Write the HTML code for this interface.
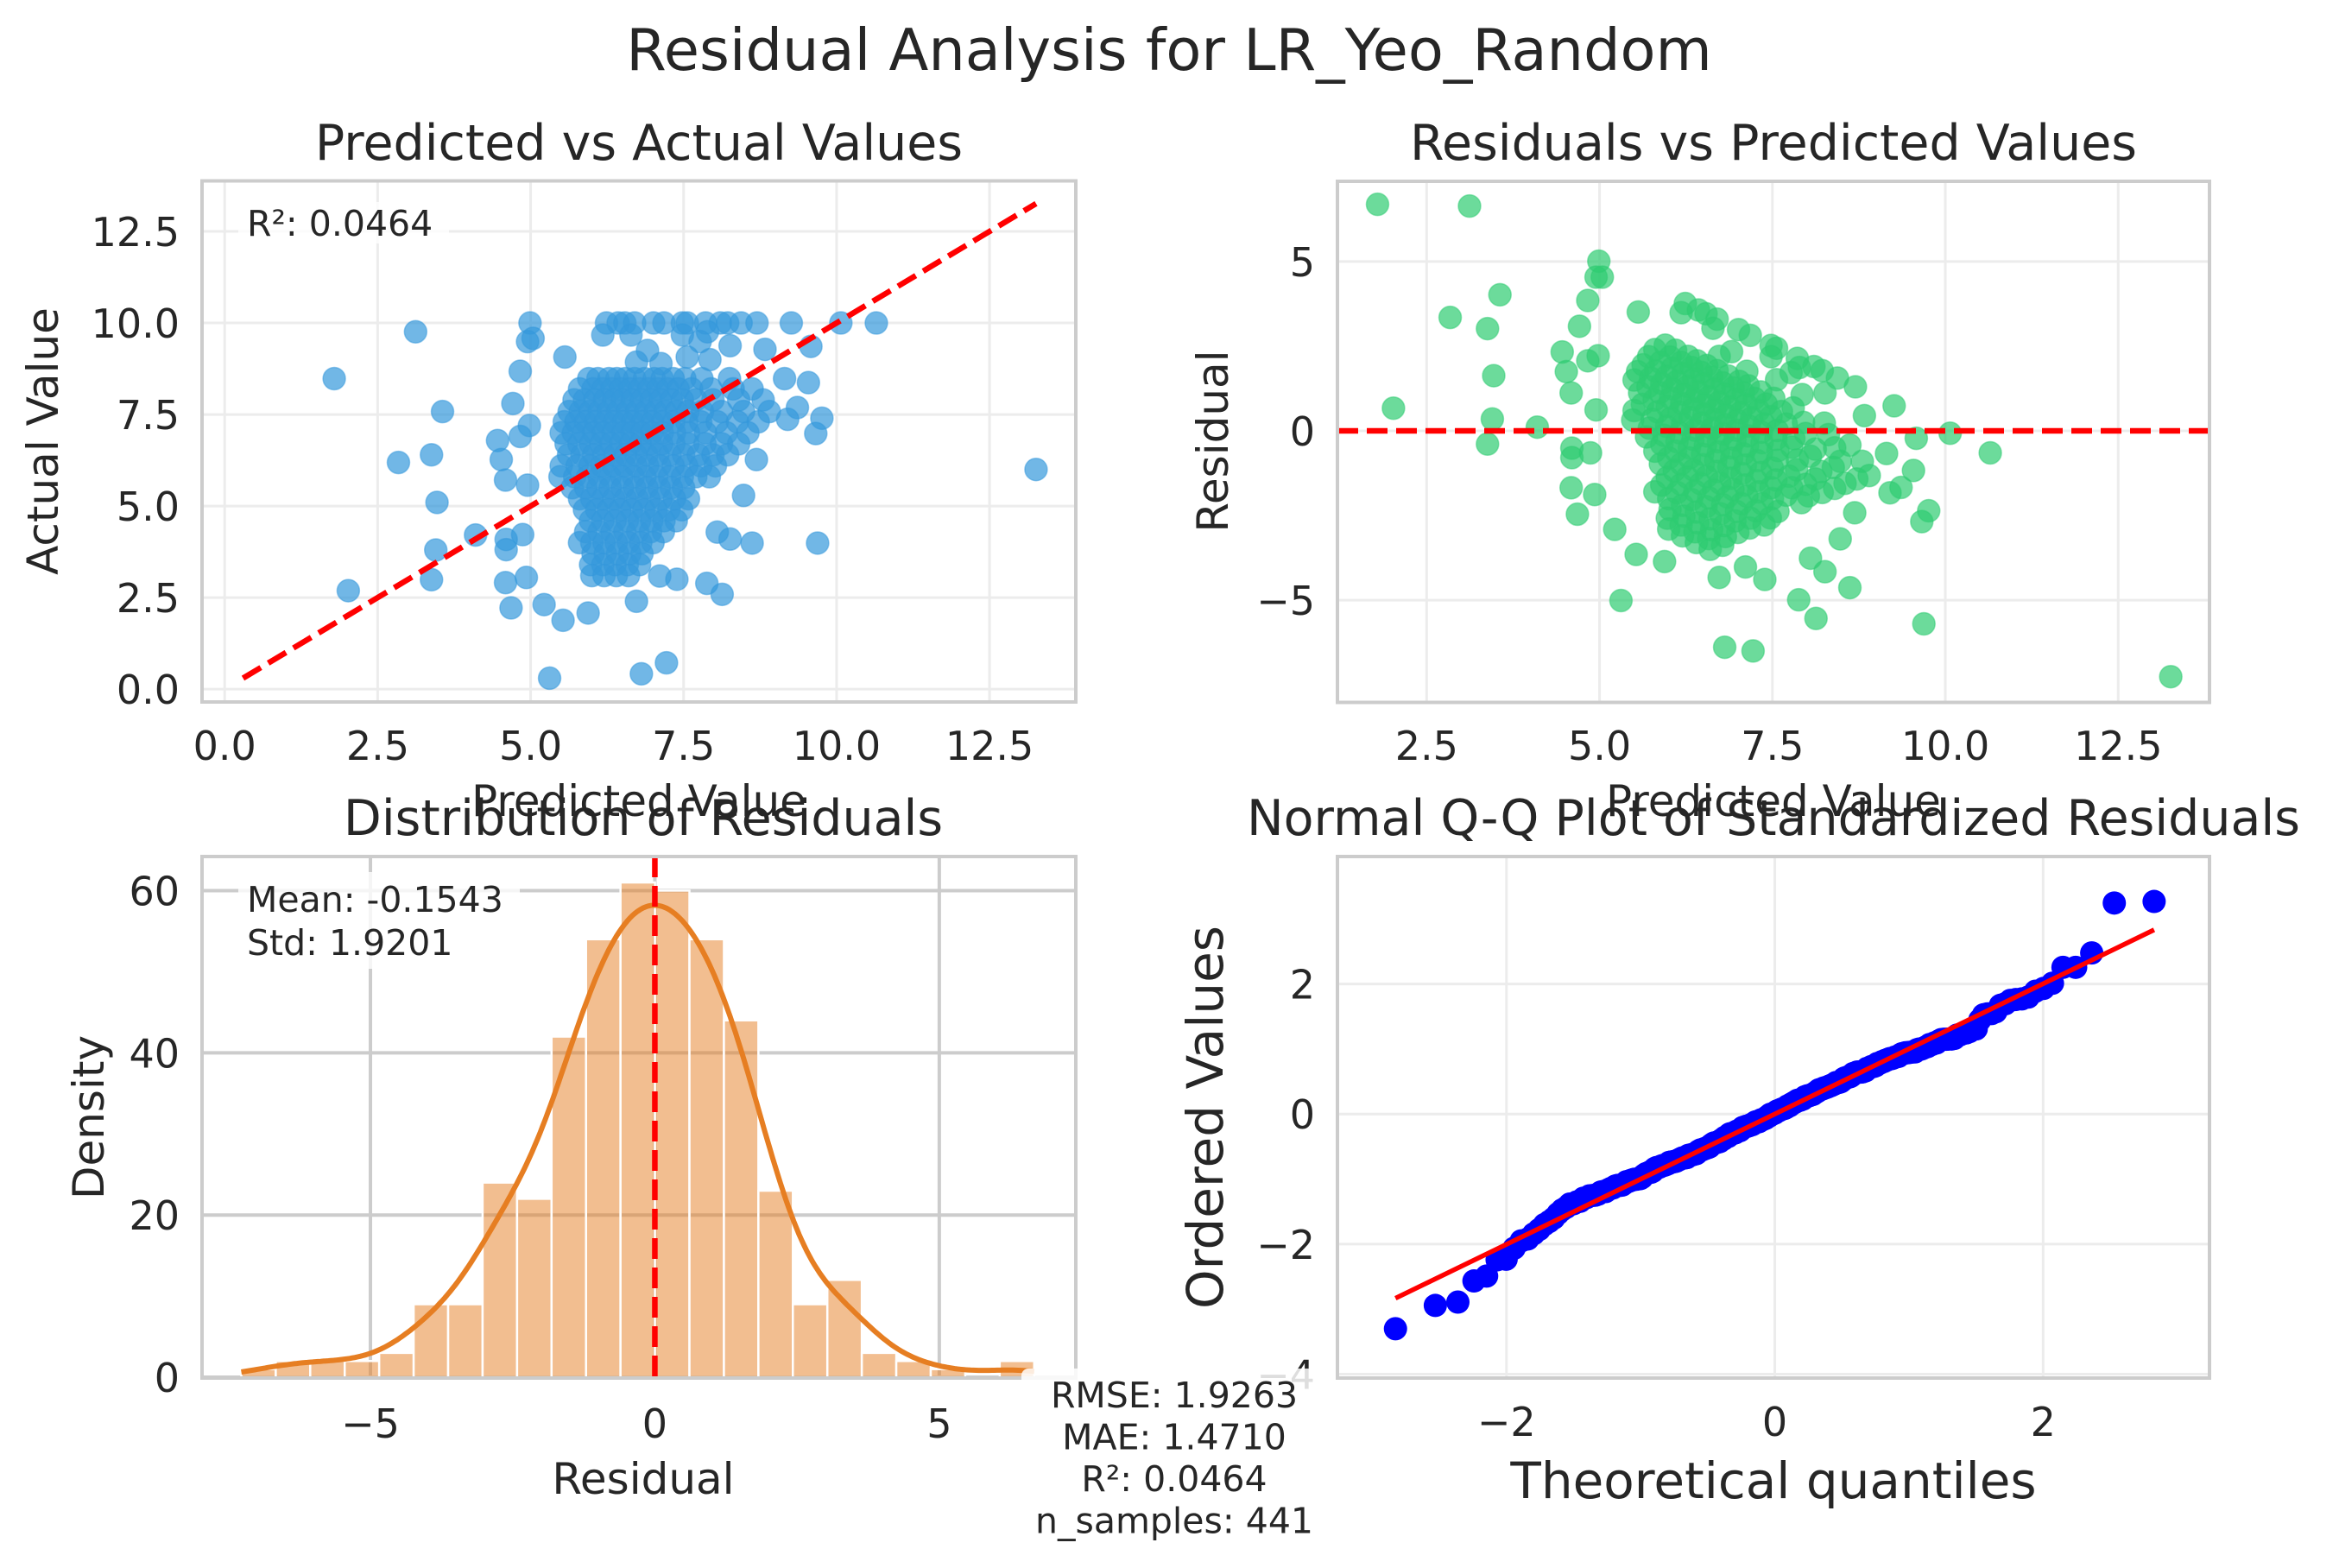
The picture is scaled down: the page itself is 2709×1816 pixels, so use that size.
<!DOCTYPE html>
<html><head><meta charset="utf-8"><title>Residual Analysis for LR_Yeo_Random</title>
<style>
html,body{margin:0;padding:0;background:#fff;}
svg{display:block;font-family:"DejaVu Sans","Liberation Sans",sans-serif;}
</style></head>
<body>
<svg id="fig" width="2709" height="1816" viewBox="0 0 2709 1816" xmlns="http://www.w3.org/2000/svg">
<rect x="0" y="0" width="2709" height="1816" fill="#ffffff"/>
<text x="1354" y="81" font-size="67" text-anchor="middle" fill="#262626">Residual Analysis for LR_Yeo_Random</text>
</svg>
<script>
// ---- data ----
const outlierPred = [1.79,3.12,2.02,2.84,3.38,3.47,3.56,3.45,3.38,4.10,13.26,9.69,10.65,10.07,9.26,9.58,9.76,9.66,9.54,9.15,9.36,9.20,8.69,8.48,8.62,8.26,8.05,8.13,7.88,7.39,7.11,7.22,6.81,5.31,5.53,5.94,6.73,4.68,5.22,4.59,4.93,4.99,5.04,4.95,5.56,4.83,4.71,4.98,4.83,4.46,4.52,4.59,4.95,4.60,4.87,4.60,
  6.24,6.43,6.54,6.70,7.01,7.18,7.48,7.56,7.86,8.10,8.22,8.44,8.70,
  6.18,6.64,7.48,6.91,7.56,7.93,8.26,6.73,7.13,8.83,7.89,7.77];
const outlierActual = [8.48,9.76,2.69,6.19,6.40,5.10,7.58,3.80,2.99,4.21,6.00,3.99,10.0,10.0,10.0,9.36,7.40,6.98,8.37,8.48,7.69,7.37,6.27,5.29,3.99,4.10,4.29,2.59,2.89,3.00,3.09,0.72,0.42,0.30,1.88,2.08,2.40,2.22,2.31,2.91,3.05,10.0,9.58,9.49,9.07,8.68,7.80,7.20,6.90,6.79,6.27,5.71,5.57,4.09,4.22,3.81,
  10.0,10.0,10.0,10.0,10.0,10.0,10.0,10.0,10.0,10.0,10.0,10.0,10.0,
  9.67,9.67,9.67,9.25,9.07,9.00,9.38,8.93,8.89,9.28,9.76,9.49];
const clusterLevels = [8.48,8.20,7.90,7.58,7.30,7.00,6.70,6.40,6.10,5.80,5.50,5.20,4.90,4.60,4.30,4.00,3.70,3.40,3.10];
const clusterPreds = [
  [5.95,6.10,6.28,6.41,6.55,6.70,6.86,7.02,7.15,7.33,7.52,7.80,8.25],
  [5.80,6.02,6.18,6.33,6.47,6.62,6.78,6.93,7.08,7.24,7.41,7.63,7.95,8.31,8.62],
  [5.71,5.88,6.05,6.21,6.36,6.50,6.66,6.81,6.97,7.12,7.30,7.48,7.70,7.98,8.40,8.80],
  [5.63,5.81,5.97,6.12,6.27,6.42,6.58,6.73,6.88,7.04,7.20,7.38,7.57,7.81,8.12,8.48,8.90],
  [5.55,5.74,5.90,6.06,6.22,6.37,6.52,6.67,6.83,6.99,7.16,7.34,7.55,7.78,8.05,8.38,8.72],
  [5.50,5.70,5.87,6.03,6.19,6.35,6.51,6.66,6.82,6.98,7.15,7.35,7.58,7.86,8.20,8.55],
  [5.58,5.79,5.98,6.15,6.31,6.47,6.63,6.79,6.96,7.14,7.34,7.57,7.85,8.12,8.40],
  [5.62,5.84,6.03,6.20,6.38,6.55,6.72,6.90,7.08,7.28,7.50,7.74,7.98,8.22],
  [5.50,5.76,5.97,6.16,6.35,6.53,6.72,6.91,7.11,7.33,7.55,7.78,8.02],
  [5.48,5.72,5.93,6.12,6.30,6.49,6.68,6.87,7.06,7.27,7.48,7.70,7.92],
  [5.68,5.90,6.10,6.30,6.50,6.70,6.90,7.10,7.30,7.50],
  [5.80,6.00,6.18,6.36,6.55,6.74,6.93,7.13,7.35,7.58],
  [5.88,6.08,6.27,6.46,6.65,6.85,7.05,7.26,7.47],
  [5.98,6.18,6.38,6.58,6.78,6.98,7.18,7.38],
  [5.90,6.12,6.33,6.54,6.75,6.96,7.17],
  [5.80,6.00,6.20,6.40,6.60,6.80,7.00],
  [6.02,6.22,6.42,6.62,6.82],
  [5.98,6.18,6.38,6.58,6.78],
  [6.00,6.20,6.40,6.60]
];
const histStart = -7.27;
const histBinWidth = 0.606;
const histCounts = [1,2,2,2,3,9,9,24,22,42,54,61,60,54,44,23,9,12,3,2,1,0,2];
const p1XTicks = [0,2.5,5,7.5,10,12.5];
const p1XTickLabels = ["0.0","2.5","5.0","7.5","10.0","12.5"];
const p1YTicks = [0,2.5,5,7.5,10,12.5];
const p1YTickLabels = ["0.0","2.5","5.0","7.5","10.0","12.5"];
const p2XTicks = [2.5,5,7.5,10,12.5];
const p2XTickLabels = ["2.5","5.0","7.5","10.0","12.5"];
const p2YTicks = [-5,0,5];
const p2YTickLabels = ["\u22125","0","5"];
const p3XTicks = [-5,0,5];
const p3XTickLabels = ["\u22125","0","5"];
const p3YTicks = [0,20,40,60];
const p3YTickLabels = ["0","20","40","60"];
const p4XTicks = [-2,0,2];
const p4XTickLabels = ["\u22122","0","2"];
const p4YTicks = [-4,-2,0,2];
const p4YTickLabels = ["\u22124","\u22122","0","2"];

// ---- build ----
const NS = "http://www.w3.org/2000/svg";
const svg = document.getElementById("fig");
function mk(tag, attrs, parent){
  const e = document.createElementNS(NS, tag);
  for (const k in attrs) e.setAttribute(k, attrs[k]);
  (parent||svg).appendChild(e);
  return e;
}
const predicted = [], actual = [];
outlierPred.forEach((p,i)=>{ predicted.push(p); actual.push(outlierActual[i]); });
clusterPreds.forEach((row,j)=>row.forEach(p=>{ predicted.push(p); actual.push(clusterLevels[j]); }));
const residuals = predicted.map((p,i)=>actual[i]-p);

function makeAxes(name, px0, px1, py0, py1, xmin, xmax, ymin, ymax){
  const g = mk("g", {});
  
  
  const sx = v => px0 + (v - xmin) / (xmax - xmin) * (px1 - px0);
  const sy = v => py1 - (v - ymin) / (ymax - ymin) * (py1 - py0);
  const cid = name + "-clip";
  const cp = mk("clipPath", {id: cid}, g);
  mk("rect", {x:px0, y:py0, width:px1-px0, height:py1-py0}, cp);
  return {g, sx, sy, px0, px1, py0, py1, cid};
}
function grid(ax, xt, yt, color, w){
  const gg = mk("g", {}, ax.g);
  
  
  xt.forEach(v=>{ mk("line",{x1:ax.sx(v),x2:ax.sx(v),y1:ax.py0,y2:ax.py1,stroke:color,"stroke-width":w},gg); });
  yt.forEach(v=>{ mk("line",{x1:ax.px0,x2:ax.px1,y1:ax.sy(v),y2:ax.sy(v),stroke:color,"stroke-width":w},gg); });
}
function ticks(ax, xt, xl, yt, yl, xBase, fs){
  xt.forEach((v,i)=>{
    const t = mk("text",{x:ax.sx(v), y:xBase, "font-size":fs, "text-anchor":"middle", fill:"#262626"}, ax.g);
    
    
    t.textContent = xl[i];
  });
  yt.forEach((v,i)=>{
    const t = mk("text",{x:ax.px0-26, y:ax.sy(v)+17, "font-size":fs, "text-anchor":"end", fill:"#262626"}, ax.g);
    
    
    t.textContent = yl[i];
  });
}
function spines(ax){
  const r = mk("rect",{x:ax.px0,y:ax.py0,width:ax.px1-ax.px0,height:ax.py1-ax.py0,fill:"none",stroke:"#cccccc","stroke-width":4}, ax.g);
  
  
}
function label(text, x, y, fs, rot, name){
  const t = mk("text",{x:x, y:y, "font-size":fs, "text-anchor":"middle", fill:"#262626"});
  if (rot) t.setAttribute("transform", "rotate(-90 "+x+" "+y+")");
  
  
  t.textContent = text;
  return t;
}

// Panel 1: predicted vs actual
const a1 = makeAxes("predicted-vs-actual-panel", 234, 1246, 209.5, 813, -0.37, 13.91, -0.35, 13.88);
grid(a1, p1XTicks, p1YTicks, "#ececec", 3);
const d1 = mk("g", {"clip-path":"url(#"+a1.cid+")"}, a1.g);
predicted.forEach((p,i)=>{
  const c = mk("circle",{cx:a1.sx(p), cy:a1.sy(actual[i]), r:13, fill:"#3498db", "fill-opacity":0.7, stroke:"#3498db","stroke-opacity":0.5,"stroke-width":1.5}, d1);
  
  
});
const lo = Math.min(Math.min(...predicted), Math.min(...actual));
const hi = Math.max(Math.max(...predicted), Math.max(...actual));
const idl = mk("line",{x1:a1.sx(lo),y1:a1.sy(lo),x2:a1.sx(hi),y2:a1.sy(hi),stroke:"#ff0000","stroke-width":6.5,"stroke-dasharray":"24 10"}, d1);


spines(a1);
ticks(a1, p1XTicks, p1XTickLabels, p1YTicks, p1YTickLabels, 880, 46);
const b1 = mk("rect",{x:276,y:234,width:244,height:48,rx:6,fill:"#ffffff","fill-opacity":0.8});


const r2t = mk("text",{x:286,y:273,"font-size":41,fill:"#262626"});


r2t.textContent = "R\u00b2: 0.0464";
label("Predicted vs Actual Values", 740, 185, 57, false, "predicted-vs-actual-title");
label("Actual Value", 67, 511, 50, true, "actual-value-y-label");

// Panel 2: residuals vs predicted
const a2 = makeAxes("residuals-vs-predicted-panel", 1549, 2559, 210, 813.5, 1.21, 13.82, -8.02, 7.37);
grid(a2, p2XTicks, p2YTicks, "#ececec", 3);
const d2 = mk("g", {"clip-path":"url(#"+a2.cid+")"}, a2.g);
predicted.forEach((p,i)=>{
  const c = mk("circle",{cx:a2.sx(p), cy:a2.sy(residuals[i]), r:13, fill:"#2ecc71", "fill-opacity":0.7, stroke:"#2ecc71","stroke-opacity":0.5,"stroke-width":1.5}, d2);
  
  
});
const zl = mk("line",{x1:a2.px0,y1:a2.sy(0),x2:a2.px1,y2:a2.sy(0),stroke:"#ff0000","stroke-width":6.5,"stroke-dasharray":"24 10"}, d2);


spines(a2);
ticks(a2, p2XTicks, p2XTickLabels, p2YTicks, p2YTickLabels, 880, 46);
label("Residuals vs Predicted Values", 2054, 185, 57, false, "residuals-vs-predicted-title");
label("Residual", 1422, 511, 50, true, "residual-y-label");

// Panel 3: histogram
const a3 = makeAxes("residual-distribution-panel", 234, 1246, 992, 1596, -7.96, 7.40, -0.1, 64.2);
grid(a3, p3XTicks, p3YTicks, "#cccccc", 4);
const d3 = mk("g", {"clip-path":"url(#"+a3.cid+")"}, a3.g);
histCounts.forEach((c,i)=>{
  const x0 = histStart + i*histBinWidth, x1 = x0 + histBinWidth;
  if (c <= 0) return;
  const r = mk("rect",{x:a3.sx(x0), y:a3.sy(c), width:a3.sx(x1)-a3.sx(x0), height:a3.sy(0)-a3.sy(c), fill:"#e67e22","fill-opacity":0.5, stroke:"#ffffff","stroke-width":2.5}, d3);
  
  
});
// KDE smoothed from histogram counts
const h = 0.6;
let kd = "";
const kx0 = histStart, kx1 = histStart + histCounts.length*histBinWidth;
for (let k=0;k<=300;k++){
  const x = kx0 + (kx1-kx0)*k/300;
  let y = 0;
  histCounts.forEach((c,i)=>{
    const m = histStart + (i+0.5)*histBinWidth;
    const z = (x-m)/h;
    y += c * Math.exp(-0.5*z*z)/(Math.sqrt(2*Math.PI)*h) * histBinWidth;
  });
  kd += (k?"L":"M") + a3.sx(x).toFixed(1) + "," + a3.sy(y).toFixed(1);
}
const kde = mk("path",{d:kd, fill:"none", stroke:"#e67e22","stroke-width":6}, d3);


const ml = mk("line",{x1:a3.sx(0),y1:a3.py0,x2:a3.sx(0),y2:a3.py1,stroke:"#ff0000","stroke-width":6.5,"stroke-dasharray":"24 10"}, d3);


spines(a3);
ticks(a3, p3XTicks, p3XTickLabels, p3YTicks, p3YTickLabels, 1665, 46);
const b3 = mk("rect",{x:276,y:1010,width:326,height:112,rx:6,fill:"#ffffff","fill-opacity":0.8});


const mt = mk("text",{x:286,y:1056,"font-size":41,fill:"#262626"});


mt.textContent = "Mean: -0.1543";
const st = mk("text",{x:286,y:1106,"font-size":41,fill:"#262626"});


st.textContent = "Std: 1.9201";
label("Distribution of Residuals", 745, 967, 57, false, "distribution-title");
label("Residual", 745, 1730, 50, false, "residual-x-label");
label("Density", 120, 1294, 50, true, "density-y-label");

// Panel 4: Q-Q plot
const a4 = makeAxes("qq-plot-panel", 1549, 2559, 992, 1596, -3.26, 3.24, -4.06, 3.96);
grid(a4, p4XTicks, p4YTicks, "#ececec", 3);
const d4 = mk("g", {"clip-path":"url(#"+a4.cid+")"}, a4.g);
function ppf(p){
  const a=[-39.69683028665376,220.9460984245205,-275.9285104469687,138.3577518672690,-30.66479806614716,2.506628277459239];
  const b=[-54.47609879822406,161.5858368580409,-155.6989798598866,66.80131188771972,-13.28068155288572];
  const c=[-0.007784894002430293,-0.3223964580411365,-2.400758277161838,-2.549732539343734,4.374664141464968,2.938163982698783];
  const d=[0.007784695709041462,0.3224671290700398,2.445134137142996,3.754408661907416];
  const pl=0.02425;
  if (p<pl){ const q=Math.sqrt(-2*Math.log(p)); return (((((c[0]*q+c[1])*q+c[2])*q+c[3])*q+c[4])*q+c[5])/((((d[0]*q+d[1])*q+d[2])*q+d[3])*q+1); }
  if (p>1-pl){ const q=Math.sqrt(-2*Math.log(1-p)); return -(((((c[0]*q+c[1])*q+c[2])*q+c[3])*q+c[4])*q+c[5])/((((d[0]*q+d[1])*q+d[2])*q+d[3])*q+1); }
  const q=p-0.5, r=q*q;
  return (((((a[0]*r+a[1])*r+a[2])*r+a[3])*r+a[4])*r+a[5])*q/(((((b[0]*r+b[1])*r+b[2])*r+b[3])*r+b[4])*r+1);
}
const n = residuals.length;
const mean = residuals.reduce((s,v)=>s+v,0)/n;
const sd = Math.sqrt(residuals.reduce((s,v)=>s+(v-mean)*(v-mean),0)/(n-1));
const ordered = residuals.map(v=>(v-mean)/sd).sort((x,y)=>x-y);
const theo = ordered.map((_,i)=>{
  let p;
  if (i===n-1) p = Math.pow(0.5,1/n);
  else if (i===0) p = 1-Math.pow(0.5,1/n);
  else p = (i+1-0.3175)/(n+0.365);
  return ppf(p);
});
let sxm=0, sym=0; theo.forEach((t,i)=>{sxm+=t; sym+=ordered[i];}); sxm/=n; sym/=n;
let sxy=0, sxx=0; theo.forEach((t,i)=>{sxy+=(t-sxm)*(ordered[i]-sym); sxx+=(t-sxm)*(t-sxm);});
const slope = sxy/sxx, icpt = sym - slope*sxm;
ordered.forEach((v,i)=>{
  const c = mk("circle",{cx:a4.sx(theo[i]), cy:a4.sy(v), r:13.5, fill:"#0000ff"}, d4);
  
  
});
const tmin = theo[0], tmax = theo[n-1];
const fl = mk("line",{x1:a4.sx(tmin),y1:a4.sy(icpt+slope*tmin),x2:a4.sx(tmax),y2:a4.sy(icpt+slope*tmax),stroke:"#ff0000","stroke-width":5.5}, d4);


spines(a4);
ticks(a4, p4XTicks, p4XTickLabels, p4YTicks, p4YTickLabels, 1663, 46);
label("Normal Q-Q Plot of Standardized Residuals", 2054, 967, 57, false, "qq-plot-title");
label("Theoretical quantiles", 2054, 1735, 58, false, "theoretical-quantiles-x-label");
label("Ordered Values", 1416, 1294, 58, true, "ordered-values-y-label");

// x-labels for top panels (drawn late so they overlap bottom titles like the reference)
label("Predicted Value", 740, 945, 50, false, "predicted-value-x-label");
label("Predicted Value", 2054, 945, 50, false, "predicted-value-x-label-right");

// metrics box
const mb = mk("rect",{x:1183,y:1585,width:340,height:215,rx:8,fill:"#ffffff","fill-opacity":0.85});


const metricLines = ["RMSE: 1.9263","MAE: 1.4710","R\u00b2: 0.0464","n_samples: 441"];
metricLines.forEach((s,i)=>{
  const t = mk("text",{x:1360,y:1630+i*48.5,"font-size":41,"text-anchor":"middle",fill:"#262626"});
  
  
  t.textContent = s;
});
</script>
</body></html>
